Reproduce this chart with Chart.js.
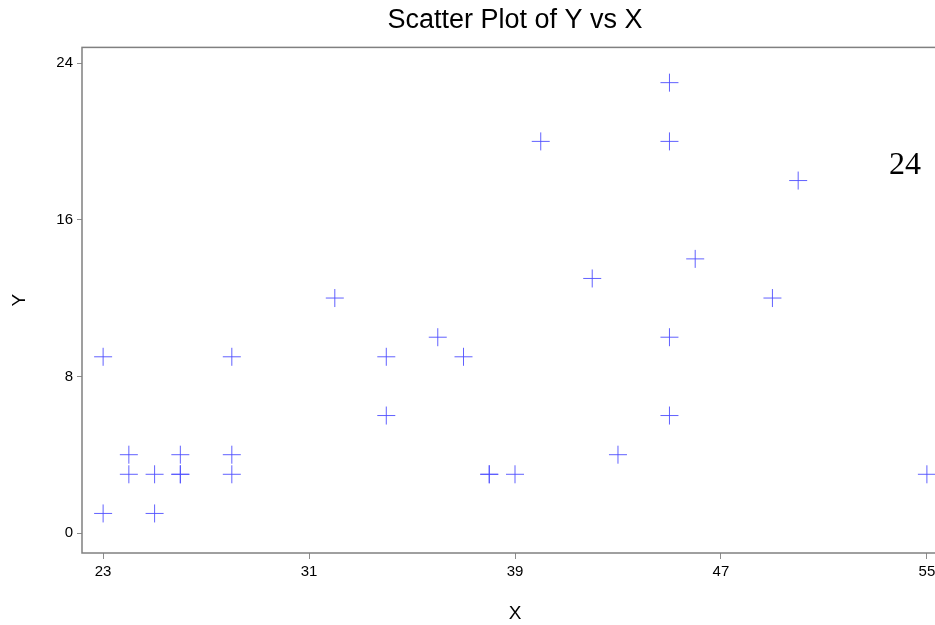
<!DOCTYPE html>
<html>
<head>
<meta charset="utf-8">
<script src="https://cdn.jsdelivr.net/npm/chart.js@4"></script>
<style>
  html, body { margin: 0; padding: 0; background: #fff; overflow: hidden; }
  #wrap { position: relative; width: 958px; height: 625px; }
  #note {
    position: absolute; left: 889px; top: 145px;
    font-family: "Liberation Serif", serif; font-size: 32px; color: #000;
  }
</style>
</head>
<body>
<div id="wrap">
  <canvas id="chart" width="958" height="625"></canvas>
  <div id="note">24</div>
</div>
<script>
// data
const xVals = [23, 23, 24, 24, 25, 25, 26, 26, 26, 28, 28, 28, 32, 34, 34, 36, 37, 38, 38, 39, 40, 42, 43, 45, 45, 45, 45, 46, 49, 50, 55];
const yVals = [9, 1, 4, 3, 3, 1, 4, 3, 3, 9, 4, 3, 12, 9, 6, 10, 9, 3, 3, 3, 20, 13, 4, 23, 20, 10, 6, 14, 12, 18, 3];
const xTicks = [23, 31, 39, 47, 55];
const yTicks = [0, 8, 16, 24];

const points = xVals.map((x, i) => ({ x: x, y: yVals[i] }));

// full box around the plot area
const frame = {
    id: 'frame',
    afterDraw(chart) {
        const a = chart.chartArea;
        const ctx = chart.ctx;
        ctx.save();
        ctx.strokeStyle = '#808080';
        ctx.lineWidth = 1.5;
        ctx.strokeRect(a.left, a.top, a.right - a.left, a.bottom - a.top);
        ctx.restore();
    }
};

const ctx = document.getElementById('chart').getContext('2d');
new Chart(ctx, {
    type: 'scatter',
    data: {
        datasets: [{
            data: points,
            pointStyle: 'cross',
            pointRadius: 9,
            pointHoverRadius: 9,
            borderColor: 'rgba(80, 80, 255, 0.9)',
            borderWidth: 1
        }]
    },
    options: {
        responsive: false,
        animation: false,
        devicePixelRatio: 1,
        layout: { padding: { left: 0, right: 2, top: 0, bottom: 0 } },
        plugins: {
            legend: { display: false },
            tooltip: { enabled: false },
            title: {
                display: true,
                fullSize: false,
                text: 'Scatter Plot of Y vs X',
                color: '#000',
                font: { family: 'Arial, "Liberation Sans", sans-serif', size: 27, weight: 'normal' },
                padding: { top: 4, bottom: 11 }
            }
        },
        scales: {
            x: {
                type: 'linear',
                min: 22.18,
                max: 55.82,
                afterBuildTicks: s => { s.ticks = xTicks.map(v => ({ value: v })); },
                afterFit: s => { s.height = 72; },
                grid: { drawOnChartArea: false, drawTicks: true, tickLength: 6, color: '#8c8c8c' },
                border: { display: false },
                ticks: { color: '#000', padding: 4, font: { family: 'Arial, "Liberation Sans", sans-serif', size: 15 } },
                title: {
                    display: true, text: 'X', color: '#000',
                    font: { family: 'Arial, "Liberation Sans", sans-serif', size: 19 },
                    padding: { top: 8, bottom: 0 }
                }
            },
            y: {
                type: 'linear',
                min: -1.02,
                max: 24.8,
                afterBuildTicks: s => { s.ticks = yTicks.map(v => ({ value: v })); },
                afterFit: s => { s.width = 82; },
                grid: { drawOnChartArea: false, drawTicks: true, tickLength: 5, color: '#8c8c8c' },
                border: { display: false },
                ticks: { color: '#000', padding: 4, font: { family: 'Arial, "Liberation Sans", sans-serif', size: 15 } },
                title: {
                    display: true, text: 'Y', color: '#000',
                    font: { family: 'Arial, "Liberation Sans", sans-serif', size: 19 },
                    padding: { top: 8, bottom: 0 }
                }
            }
        }
    },
    plugins: [frame]
});
</script>
</body>
</html>
